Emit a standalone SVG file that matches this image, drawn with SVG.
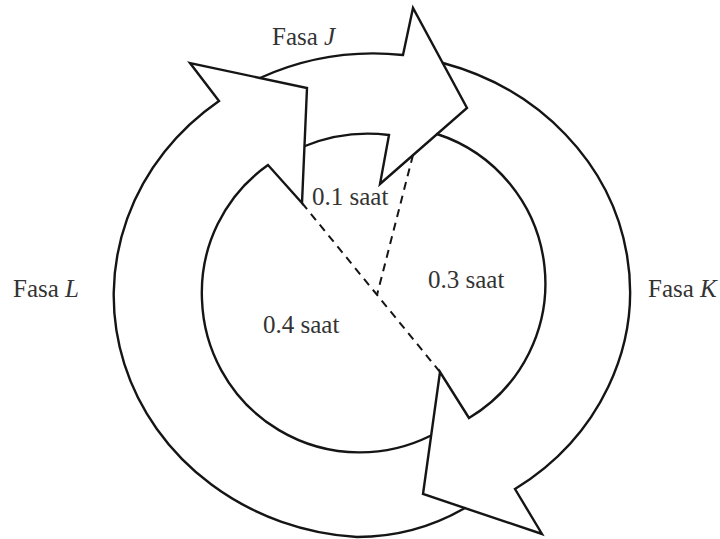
<svg xmlns="http://www.w3.org/2000/svg" width="720" height="539" viewBox="0 0 720 539">
<style>
.band{fill:none;stroke:#151515;stroke-width:2.4;stroke-linejoin:miter;stroke-linecap:round}
.dash{fill:none;stroke:#151515;stroke-width:2;stroke-dasharray:8 6}
.lbl{font-family:"Liberation Serif","Times New Roman",serif;font-size:25px;fill:#333}
.it{font-style:italic}
</style>
<rect width="720" height="539" fill="#ffffff"/>
<g id="fase-L">
<path class="band" d="M 430 436 A 158 158 0 0 1 202 300 A 156 156 0 0 1 268 165 L 302 203 L 307 88 L 190 63 L 219 101 A 260 242 0 0 0 357 537 A 216 216 0 0 0 465 508"/>
<text class="lbl" x="13" y="297">Fasa <tspan class="it">L</tspan></text>
</g>
<g id="fase-J">
<path class="band" d="M 260 78 A 260 242 0 0 1 403 55 L 413 8 L 467 108 L 380 184 L 389 135 A 167 167 0 0 0 305 146"/>
<text class="lbl" x="272" y="45">Fasa <tspan class="it">J</tspan></text>
</g>
<g id="fase-K">
<path class="band" d="M 443 63 A 260 238 0 0 1 515 489 L 542 534 L 423 494 L 440 372 L 469 418 A 157 157 0 0 0 437 134"/>
<text class="lbl" x="648" y="297">Fasa <tspan class="it">K</tspan></text>
</g>
<g id="connectors">
<path class="dash" d="M 302 203 L 440 372"/>
<path class="dash" d="M 413 155 L 377 295"/>
</g>
<g id="durations">
<text class="lbl" x="312" y="205">0.1 saat</text>
<text class="lbl" x="428" y="288">0.3 saat</text>
<text class="lbl" x="263" y="333">0.4 saat</text>
</g>
</svg>
